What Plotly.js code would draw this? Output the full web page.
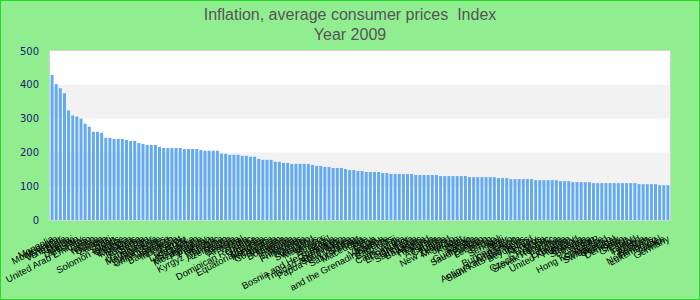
<!DOCTYPE html>
<html>
<head>
<meta charset="utf-8">
<script src="https://cdn.plot.ly/plotly-3.0.1.min.js"></script>
<style>
html,body{margin:0;padding:0;background:#90ee90;}
#wrap{position:relative;width:700px;height:300px;}
#plot{width:700px;height:300px;}
#frame{position:absolute;left:0;top:0;width:700px;height:300px;box-sizing:border-box;border:1px solid #22dd22;pointer-events:none;}
</style>
</head>
<body>
<div id="wrap"><div id="plot"></div><div id="frame"></div></div>
<script>
var countries = [
"Mongolia","Montenegro","Myanmar","Venezuela","Ghana","Malawi","Tajikistan","Turkey","United Arab Emirates","Iran",
"Yemen","Nigeria","Guinea","Zambia","Haiti","Sudan","Solomon Islands","Ukraine","Ethiopia","Moldova",
"Belarus","Romania","Serbia","Uzbekistan","Madagascar","Argentina","Sierra Leone","United States","Jamaica","Bangladesh",
"Indonesia","Egypt","Uruguay","Lao P.D.R.","Sri Lanka","Kazakhstan","Mozambique","Paraguay","Pakistan","Kenya",
"Kyrgyz Republic","Tanzania","Azerbaijan","Russia","Georgia","Armenia","Nepal","India","Dominican Republic","Gambia",
"Uganda","Equatorial Guinea","Honduras","Nicaragua","Costa Rica","Vietnam","Botswana","Rwanda","Bolivia","Colombia",
"Philippines","Namibia","Lesotho","Swaziland","Mauritius","Mexico","Burundi","Brazil","Bosnia and Herzegovina","Suriname",
"Trinidad and Tobago","South Africa","Papua New Guinea","Bhutan","Saint Vincent and the Grenadines","Macedonia","Chile","Peru","Tonga","Vanuatu",
"Samoa","Belize","Barbados","Fiji","Cape Verde","Dominica","El Salvador","Grenada","Saint Lucia","Bahamas",
"Albania","Thailand","Korea","Australia","Canada","Tunisia","New Zealand","Morocco","Jordan","Kuwait",
"Qatar","Oman","Guatemala","Saudi Arabia","Bahrain","Lebanon","Benin","Togo","Senegal","Mali",
"Niger","Burkina Faso","Cameroon","Antigua and Barbuda","Saint Kitts and Nevis","Seychelles","Iceland","Norway","Cyprus","Malta",
"Czech Republic","Slovak Republic","Estonia","Latvia","Lithuania","United Kingdom","Hungary","Poland","Slovenia","Bulgaria",
"Croatia","Japan","Hong Kong SAR","Singapore","Switzerland","Sweden","Portugal","Denmark","Spain","Greece",
"Italy","Ireland","Finland","Austria","Belgium","Netherlands","Luxembourg","Israel","France","Germany"
];
var values = [
429,402,390,375,324,309,306,300,285,276,
261,261,258,243,243,240,240,240,237,234,
234,228,225,222,222,222,216,213,213,213,
213,213,210,210,210,210,207,205,205,205,
205,196,196,193,193,193,190,190,187,187,
181,178,178,178,172,172,169,169,166,166,
166,166,166,163,160,160,157,157,154,154,
154,151,148,148,145,145,142,142,142,142,
139,139,136,136,136,136,136,136,133,133,
133,133,133,133,130,130,130,130,130,130,
130,127,127,127,127,127,127,127,124,124,
124,121,121,121,121,121,121,118,118,118,
118,118,118,115,115,115,112,112,112,112,
112,109,109,109,109,109,109,109,109,109,
109,109,106,106,106,106,106,103,103,103
];
// tick labels: long name wrapped as in the reference
var tickLabels = countries.map(function(c){
  return c === "Saint Vincent and the Grenadines" ? "Saint Vincent<br>and the Grenadines" : c;
});
var yTicks = [0,100,200,300,400,500];
var bands = [[100,200],[300,400]];

var shapes = bands.map(function(b){
  return {type:'rect', xref:'paper', yref:'y', x0:0, x1:1, y0:b[0], y1:b[1],
          fillcolor:'#f2f2f2', line:{width:0}, layer:'below'};
});

var trace = {
  type:'bar', x:countries, y:values,
  marker:{color:'#64aaf2', line:{width:0}},
  hoverinfo:'x+y'
};

var layout = {
  width:700, height:300,
  paper_bgcolor:'#90ee90', plot_bgcolor:'#ffffff',
  margin:{l:50, r:30, t:51, b:80, pad:0},
  title:{text:'Inflation, average consumer prices  Index<br>Year 2009',
         font:{family:'Liberation Sans Narrow, Arial Narrow, Liberation Sans, Arial, sans-serif', size:16, color:'#555555'},
         x:0.5, xanchor:'center', y:0.935, yanchor:'middle', yref:'container'},
  bargap:0.27,
  showlegend:false,
  xaxis:{type:'category', tickmode:'array', tickvals:countries, ticktext:tickLabels,
         tickangle:-28, automargin:false,
         tickfont:{family:'Liberation Sans, Arial, sans-serif', size:9.5, color:'#000000'},
         ticks:'outside', ticklen:9, tickcolor:'rgba(0,0,0,0)',
         showline:true, mirror:true, linecolor:'#d3d3d3', linewidth:1, showgrid:false, zeroline:false},
  yaxis:{range:[0,500], tickmode:'array', tickvals:yTicks, automargin:false,
         tickfont:{family:'DejaVu Sans, Verdana, sans-serif', size:10, color:'#191970'},
         ticks:'outside', ticklen:8, tickcolor:'rgba(0,0,0,0)',
         showline:true, mirror:true, linecolor:'#d3d3d3', linewidth:1, showgrid:false, zeroline:false},
  shapes:shapes
};

Plotly.newPlot('plot', [trace], layout, {displayModeBar:false, staticPlot:true});
</script>
</body>
</html>
